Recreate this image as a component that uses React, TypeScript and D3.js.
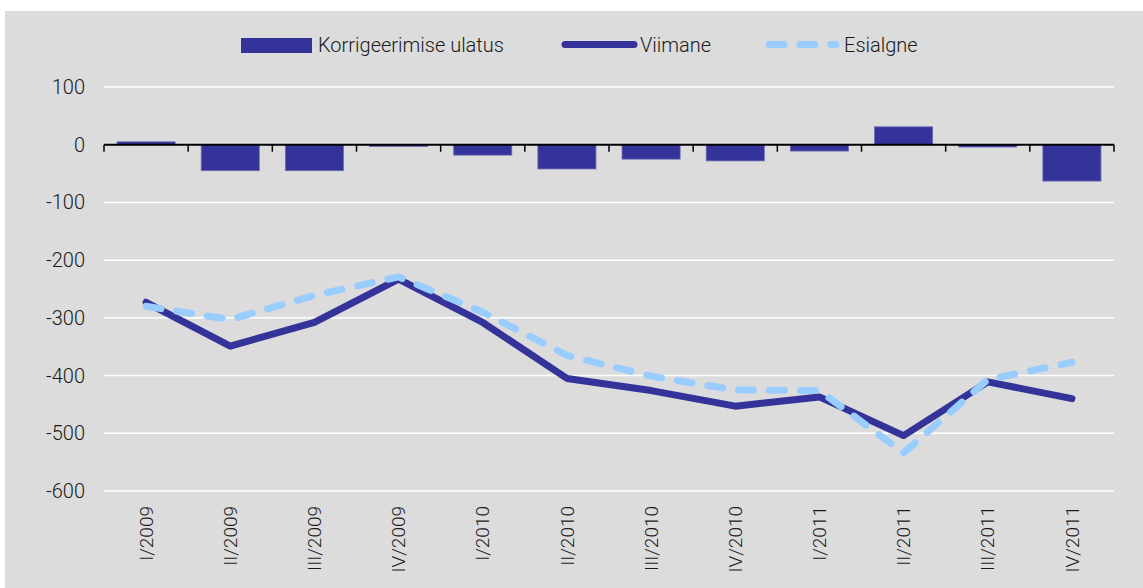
import { useRef, useEffect } from 'react';
import * as d3 from 'd3';

const quarters = [
  'I/2009', 'II/2009', 'III/2009', 'IV/2009',
  'I/2010', 'II/2010', 'III/2010', 'IV/2010',
  'I/2011', 'II/2011', 'III/2011', 'IV/2011',
];
const korrigeerimine = [5, -45, -45, -3, -18, -42, -25, -28, -11, 31, -4, -63];
const viimane = [-273, -349, -308, -233, -308, -405, -426, -453, -437, -504, -411, -440];
const esialgne = [-280, -303, -261, -229, -290, -365, -401, -425, -426, -534, -407, -377];
const yTicks = [100, 0, -100, -200, -300, -400, -500, -600];

const BAR = '#333399';
const LIGHT = '#99ccff';
const FONT = 'Roboto, "Liberation Sans", Arial, sans-serif';

export default function App() {
  const svgRef = useRef<SVGSVGElement>(null);

  useEffect(() => {
    if (!svgRef.current) return;
    const width = 1143;
    const height = 588;
    const margin = { top: 87, right: 29, bottom: 97, left: 104 };

    const svg = d3.select(svgRef.current)
      .attr('width', width)
      .attr('height', height);
    svg.selectAll('*').remove();

    // background panel
    svg.append('rect')
      .attr('x', 5).attr('y', 11)
      .attr('width', width - 5).attr('height', height - 11)
      .attr('fill', '#dcdcdc');

    const x = d3.scaleBand()
      .domain(quarters)
      .range([margin.left, width - margin.right])
      .paddingInner(0.31)
      .paddingOuter(0.155);

    const y = d3.scaleLinear()
      .domain([-600, 100])
      .range([height - margin.bottom, margin.top]);

    const step = x.step();
    const cx = (q: string) => (x(q) ?? 0) + x.bandwidth() / 2;

    // gridlines
    svg.append('g')
      .selectAll('line')
      .data(yTicks.filter(t => t !== 0))
      .join('line')
      .attr('x1', margin.left)
      .attr('x2', width - margin.right)
      .attr('y1', d => y(d))
      .attr('y2', d => y(d))
      .attr('stroke', '#ffffff')
      .attr('stroke-width', 1.5);

    // y labels
    svg.append('g')
      .selectAll('text')
      .data(yTicks)
      .join('text')
      .attr('x', 85)
      .attr('y', d => y(d))
      .attr('dy', '0.35em')
      .attr('text-anchor', 'end')
      .attr('font-family', FONT)
      .attr('font-weight', 300)
      .attr('font-size', 20)
      .attr('fill', '#1a1a1a')
      .text(d => d);

    // bars
    svg.append('g')
      .selectAll('rect')
      .data(quarters)
      .join('rect')
      .attr('x', d => x(d)!)
      .attr('width', x.bandwidth())
      .attr('y', (d, i) => y(Math.max(0, korrigeerimine[i])))
      .attr('height', (d, i) => Math.abs(y(korrigeerimine[i]) - y(0)))
      .attr('fill', BAR)
      .attr('stroke', '#6a6ab5')
      .attr('stroke-width', 0.8);

    // zero axis with category ticks
    const axis = svg.append('g');
    axis.append('line')
      .attr('x1', margin.left)
      .attr('x2', width - margin.right)
      .attr('y1', y(0))
      .attr('y2', y(0))
      .attr('stroke', '#000')
      .attr('stroke-width', 2);
    axis.selectAll('line.tick')
      .data(d3.range(quarters.length + 1))
      .join('line')
      .attr('class', 'tick')
      .attr('x1', i => margin.left + i * step)
      .attr('x2', i => margin.left + i * step)
      .attr('y1', y(0))
      .attr('y2', y(0) + 7)
      .attr('stroke', '#000')
      .attr('stroke-width', 1.5);

    // lines
    const line = d3.line<number>()
      .x((d, i) => cx(quarters[i]))
      .y(d => y(d));

    svg.append('path')
      .datum(viimane)
      .attr('fill', 'none')
      .attr('stroke', BAR)
      .attr('stroke-width', 7)
      .attr('stroke-linejoin', 'round')
      .attr('stroke-linecap', 'round')
      .attr('d', line);

    svg.append('path')
      .datum(esialgne)
      .attr('fill', 'none')
      .attr('stroke', LIGHT)
      .attr('stroke-width', 7)
      .attr('stroke-linejoin', 'round')
      .attr('stroke-linecap', 'round')
      .attr('stroke-dasharray', '15,16')
      .attr('d', line);

    // x labels
    svg.append('g')
      .selectAll('text')
      .data(quarters)
      .join('text')
      .attr('transform', d => `translate(${cx(d)},${506}) rotate(-90)`)
      .attr('dy', '0.35em')
      .attr('text-anchor', 'end')
      .attr('font-family', FONT)
      .attr('font-weight', 300)
      .attr('font-size', 19)
      .attr('fill', '#1a1a1a')
      .text(d => d);

    // legend
    const lg = svg.append('g')
      .attr('font-family', FONT)
      .attr('font-weight', 300)
      .attr('font-size', 20)
      .attr('fill', '#1a1a1a');
    lg.append('rect')
      .attr('x', 241).attr('y', 38).attr('width', 71).attr('height', 15)
      .attr('fill', BAR);
    lg.append('text').attr('x', 318).attr('y', 52).text('Korrigeerimise ulatus');

    lg.append('line')
      .attr('x1', 565).attr('x2', 634).attr('y1', 44.5).attr('y2', 44.5)
      .attr('stroke', BAR).attr('stroke-width', 7).attr('stroke-linecap', 'round');
    lg.append('text').attr('x', 640).attr('y', 52).text('Viimane');

    lg.append('line')
      .attr('x1', 769).attr('x2', 836).attr('y1', 44.5).attr('y2', 44.5)
      .attr('stroke', LIGHT).attr('stroke-width', 7).attr('stroke-linecap', 'round')
      .attr('stroke-dasharray', '15,16');
    lg.append('text').attr('x', 844).attr('y', 52).text('Esialgne');
  }, []);

  return (
    <div style={{ position: 'absolute', left: 0, top: 0 }}>
      <svg ref={svgRef} style={{ display: 'block' }}></svg>
    </div>
  );
}
